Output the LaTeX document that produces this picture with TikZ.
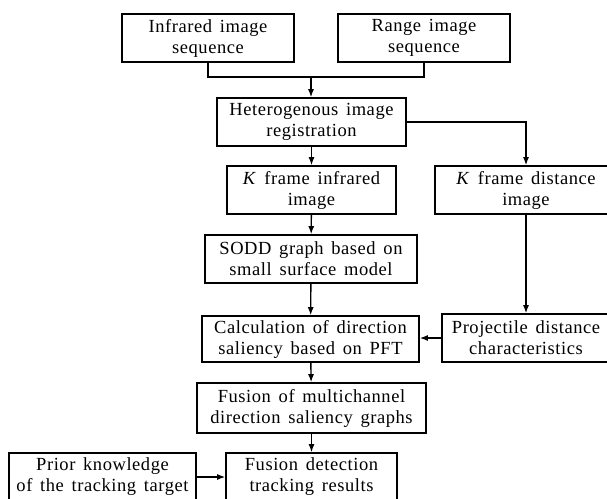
\documentclass[tikz,border=0pt]{standalone}
\usepackage{fontspec}
\setmainfont{Liberation Serif}[LetterSpace=3, WordSpace=1.5]
\usetikzlibrary{arrows.meta}

\tikzset{
    box/.style = {draw = black, line width = 1.6pt, inner sep = 0pt, align = center,
        font = \fontsize{18.5}{21}\selectfont},
    arr/.style = {line width = 1.4pt, -{Latex[length=8pt, width=6pt]}}
}

\begin{document}
\begin{tikzpicture}[x=1pt, y=-1pt]

    \useasboundingbox (0,0) rectangle (607,498);

    \node[box, minimum width = 172pt, minimum height = 48pt] (infrared) at (208,38) {Infrared image\\sequence};
    \node[box, minimum width = 172pt, minimum height = 48pt] (range) at (424,38) {Range image\\sequence};
    \node[box, minimum width = 189pt, minimum height = 48pt] (hetero) at (311.5,122) {Heterogenous image\\registration};
    \node[box, minimum width = 169pt, minimum height = 48pt] (kinf) at (311.5,190) {\textit{K} frame infrared\\image};
    \node[box, minimum width = 182pt, minimum height = 48pt] (kdist) at (526,190) {\textit{K} frame distance\\image};
    \node[box, minimum width = 212pt, minimum height = 48pt] (sodd) at (311,259) {SODD graph based on\\small surface model};
    \node[box, minimum width = 217pt, minimum height = 46pt] (calc) at (310.5,339) {Calculation of direction\\saliency based on PFT};
    \node[box, minimum width = 168pt, minimum height = 48pt] (proj) at (526,338) {Projectile distance\\characteristics};
    \node[box, minimum width = 229pt, minimum height = 50pt] (fusm) at (311.5,408) {Fusion of multichannel\\direction saliency graphs};
    \node[box, minimum width = 187pt, minimum height = 48pt] (prior) at (102.5,477) {Prior knowledge\\of the tracking target};
    \node[box, minimum width = 171pt, minimum height = 48pt] (fusd) at (311.5,477) {Fusion detection\\tracking results};

    \coordinate (merge) at (311,77);

    \draw[line width = 1.4pt] (infrared.south) |- (merge) -| (range.south);
    \draw[arr] (merge) -- (merge |- hetero.north);
    \draw[arr] (hetero.east) -| (kdist.north);
    \draw[arr] (hetero) -- (kinf);
    \draw[arr] (kinf) -- (sodd);
    \draw[arr] (sodd) -- (calc);
    \draw[arr] (kdist) -- (proj);
    \draw[arr] (proj.west) -- (calc.east |- proj.west);
    \draw[arr] (calc) -- (fusm);
    \draw[arr] (fusm) -- (fusd);
    \draw[arr] (prior) -- (fusd);

\end{tikzpicture}
\end{document}
